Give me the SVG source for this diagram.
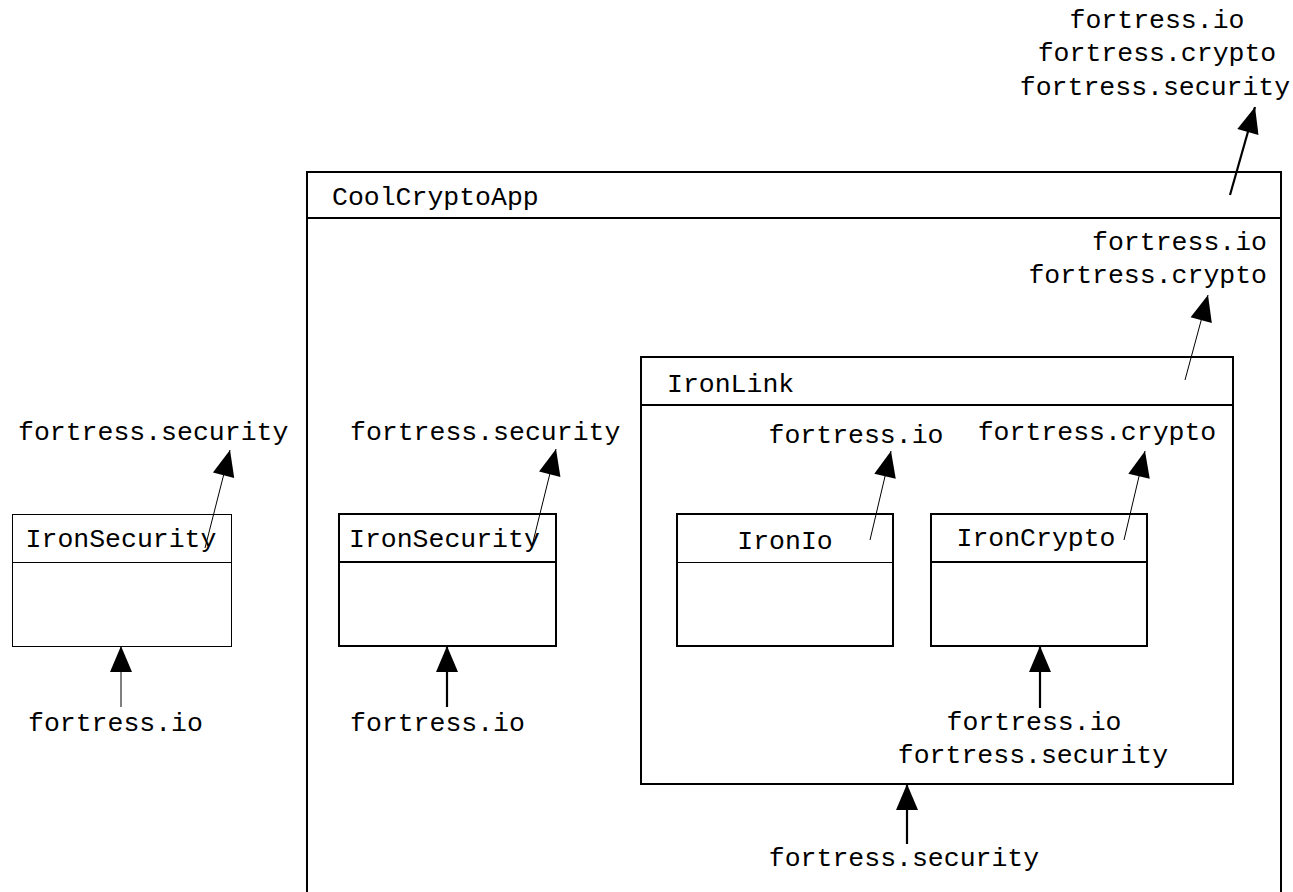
<svg xmlns="http://www.w3.org/2000/svg" width="1293" height="892" viewBox="0 0 1293 892">
  <style>
    text { font-family: "Liberation Mono", "Courier New", monospace; font-size: 26.5px; fill: #000; }
    .mid { text-anchor: middle; }
    .end { text-anchor: end; }
    .box { fill: #fff; stroke: #000; stroke-width: 2; }
    .thin { fill: #fff; stroke: #000; stroke-width: 1; }
    .div { stroke: #000; stroke-width: 2; }
    .div1 { stroke: #000; stroke-width: 1; }
    .dep { fill: none; stroke: #000; stroke-width: 1; marker-end: url(#tri); }
    .dep2 { fill: none; stroke: #000; stroke-width: 2.2; marker-end: url(#tri); }
  </style>
  <defs>
    <marker id="tri" markerUnits="userSpaceOnUse" markerWidth="27" markerHeight="23" refX="26" refY="11" orient="auto" overflow="visible">
      <path d="M0,0 L26,11 L0,22 z" fill="#000"/>
    </marker>
  </defs>
  <rect width="1293" height="892" fill="#fff"/>

  <!-- standalone IronSecurity -->
  <g id="ironsecurity-outer">
    <rect class="thin" x="12.5" y="514.5" width="219" height="132"/>
    <line class="div1" x1="12.5" y1="562.5" x2="231.5" y2="562.5"/>
    <text class="mid" x="121" y="547">IronSecurity</text>
  </g>

  <!-- CoolCryptoApp container -->
  <g id="coolcryptoapp">
    <rect class="box" x="307" y="172" width="974" height="740"/>
    <line class="div" x1="307" y1="218" x2="1281" y2="218"/>
    <text x="332" y="205">CoolCryptoApp</text>
  </g>

  <!-- IronSecurity inside CoolCryptoApp -->
  <g id="ironsecurity-inner">
    <rect class="box" x="339" y="514" width="217" height="132"/>
    <line class="div" x1="339" y1="562" x2="556" y2="562"/>
    <text x="349" y="547">IronSecurity</text>
  </g>

  <!-- IronLink container -->
  <g id="ironlink">
    <rect class="box" x="641" y="357" width="592" height="427"/>
    <line class="div" x1="641" y1="405" x2="1233" y2="405"/>
    <text x="667" y="392">IronLink</text>
  </g>

  <g id="ironio">
    <rect class="box" x="677" y="514" width="216" height="132"/>
    <line class="div1" x1="677" y1="562.5" x2="893" y2="562.5"/>
    <text class="mid" x="785" y="549">IronIo</text>
  </g>

  <g id="ironcrypto">
    <rect class="box" x="931" y="514" width="216" height="132"/>
    <line class="div" x1="931" y1="562" x2="1147" y2="562"/>
    <text class="mid" x="1036" y="546">IronCrypto</text>
  </g>

  <!-- package labels -->
  <g id="labels">
    <text class="mid" x="1157" y="28">fortress.io</text>
    <text class="mid" x="1157" y="61">fortress.crypto</text>
    <text class="mid" x="1155" y="95">fortress.security</text>

    <text class="end" x="1267" y="250">fortress.io</text>
    <text class="end" x="1267" y="283">fortress.crypto</text>

    <text x="18" y="440">fortress.security</text>
    <text x="28" y="731">fortress.io</text>

    <text x="350" y="440">fortress.security</text>
    <text x="350" y="731">fortress.io</text>

    <text class="mid" x="856" y="443">fortress.io</text>
    <text class="mid" x="1097" y="440">fortress.crypto</text>

    <text class="mid" x="1034" y="730">fortress.io</text>
    <text class="mid" x="1033" y="763">fortress.security</text>

    <text class="mid" x="904" y="866">fortress.security</text>
  </g>

  <!-- dependency arrows -->
  <g id="connectors">
    <line class="dep" x1="205" y1="548" x2="230" y2="450"/>
    <line class="dep" x1="121" y1="707" x2="121" y2="646"/>

    <line class="dep" x1="532" y1="546" x2="556" y2="449"/>
    <line class="dep2" x1="447" y1="707" x2="447" y2="646"/>

    <line class="dep" x1="870" y1="540" x2="891" y2="451"/>
    <line class="dep" x1="1124" y1="540" x2="1145" y2="451"/>
    <line class="dep2" x1="1040" y1="708" x2="1040" y2="646"/>

    <line class="dep2" x1="907" y1="844" x2="907" y2="784"/>
    <line class="dep" x1="1185" y1="380" x2="1208" y2="295"/>
    <line class="dep2" x1="1230" y1="195" x2="1255" y2="107"/>
  </g>
</svg>
